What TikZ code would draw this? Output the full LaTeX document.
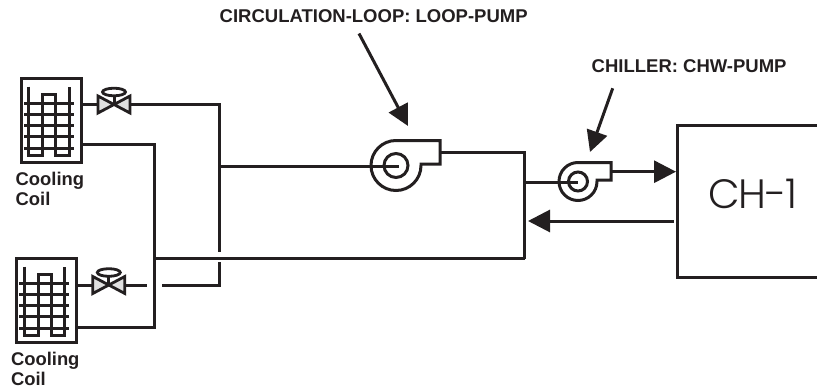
\documentclass[tikz,border=0pt]{standalone}
\usepackage{fontspec}
\setmainfont{Liberation Sans}
\newfontfamily\chfont[LetterSpace=-3]{Poppins Light}
\usetikzlibrary{arrows.meta}
\definecolor{ink}{HTML}{231F20}
\tikzset{
  pipe/.style={draw=ink,line width=3pt,line join=miter},
  lead/.style={draw=ink,line width=3pt,-{Triangle[length=#1,width=#1]}},
  lab/.style={font=\bfseries\fontsize{18.5}{20}\selectfont,text=ink,inner sep=0pt},
  coillab/.style={font=\bfseries\fontsize{18.4}{20}\selectfont,text=ink,inner sep=0pt,align=left,anchor=north west},
  valvetri/.style={draw=ink,line width=2.8pt,fill=black!12,line join=miter}
}
\newcommand{\coilsym}[3]{%
\begin{scope}[shift={(#1,#2)}]
 \node[draw=ink,line width=3pt,minimum width=60.5pt,minimum height=84.5pt,inner sep=0pt,anchor=north west] (#3) at (19.5,76.5) {};
 \draw[pipe] (28.7,86.7) -- (28.7,155.7) -- (42.7,155.7) -- (42.7,94) -- (55.7,94) -- (55.7,155.7) -- (69.3,155.7) -- (69.3,86.7);
 \foreach \yy in {103.5,114.5,125.7,136.7,148.3}{\draw[pipe] (24,\yy) -- (73.5,\yy);}
\end{scope}}
\newcommand{\valvesym}[3]{%
\begin{scope}[shift={(#1,#2)}]
 \coordinate (#3L) at (-16.5,0);
 \coordinate (#3R) at (16.5,0);
 \draw[valvetri] (0,0) -- (-16,-8.5) -- (-16,8.5) -- cycle;
 \draw[valvetri] (0,0) -- (16,-8.5) -- (16,8.5) -- cycle;
 \draw[pipe] (0,0) -- (0,-12);
 \draw[draw=ink,line width=2.8pt,fill=white] (0,-12.5) ellipse [x radius=11.5pt,y radius=3.8pt];
\end{scope}}
\begin{document}
\begin{tikzpicture}[x=1pt,y=-1pt]
\useasboundingbox (0,0) rectangle (817,388);
% coils and valves
\coilsym{0}{0}{coilA}
\coilsym{-4.7}{180}{coilB}
\valvesym{114}{104.5}{va}
\valvesym{108.8}{285}{vb}
% named junctions
\coordinate (ca) at (81,104.5);
\coordinate (ra) at (81,144);
\coordinate (cb) at (76.5,285);
\coordinate (rb) at (76.5,327);
\coordinate (g1) at (146.7,285);
\coordinate (g2) at (162,285);
\coordinate (p1) at (396,165.5);
\coordinate (p2) at (578,181.5);
% pipes
\draw[pipe] (ca) -- (vaL);
\draw[pipe] (vaR) -- (219,104.5) -- (219,252);
\draw[pipe] (219,262) -- (219,285) -- (g2);
\draw[pipe] (vbR) -- (g1);
\draw[pipe] (cb) -- (vbL);
\draw[pipe] (219,166) -- (399,166);
\draw[pipe] (ra) -- (154,144) -- (154,327) -- (rb);
\draw[pipe] (154,258.5) -- (524.5,258.5);
\draw[pipe] (440,152.5) -- (524.5,152.5) -- (524.5,258.5);
\draw[pipe] (524.5,182) -- (578,182);
% pumps
\draw[pipe] (440,140.5) -- (396,140.5) arc[start angle=90,end angle=360,radius=25pt] -- (421,164) -- (440,164) -- cycle;
\draw[pipe] (p1) circle[radius=12pt];
\draw[pipe] (611,162.5) -- (578,162.5) arc[start angle=90,end angle=360,radius=19pt] -- (597,180) -- (611,180) -- cycle;
\draw[pipe] (p2) circle[radius=9.5pt];
% chiller
\draw[pipe] (817,125) -- (677,125) -- (677,277.3) -- (817,277.3);
\node[font=\chfont\fontsize{41}{41}\selectfont,text=ink,inner sep=0pt,anchor=base] (ch) at (753,208) {CH-1};
% flow arrows
\coordinate (fa) at (612,171.7);
\coordinate (fb) at (676,171.7);
\coordinate (fc) at (673.5,221);
\coordinate (fd) at (528,221);
\draw[lead=22pt] (fa) -- (fb);
\draw[lead=22pt] (fc) -- (fd);
% labels
\node[lab,anchor=base west] (l1) at (219.5,22.7) {CIRCULATION-LOOP: LOOP-PUMP};
\node[lab,anchor=base west] (l2) at (591.5,72.3) {CHILLER: CHW-PUMP};
\coordinate (t1) at (408,126);
\coordinate (t2) at (590,152);
\coordinate (s1) at (359,33.5);
\coordinate (s2) at (612.7,88.3);
\draw[lead=21pt] (s1) -- (t1);
\draw[lead=21pt] (s2) -- (t2);
\node[coillab] (ta) at (15.5,171.5) {Cooling\\Coil};
\node[coillab] (tb) at (10.8,351.5) {Cooling\\Coil};
\end{tikzpicture}
\end{document}
